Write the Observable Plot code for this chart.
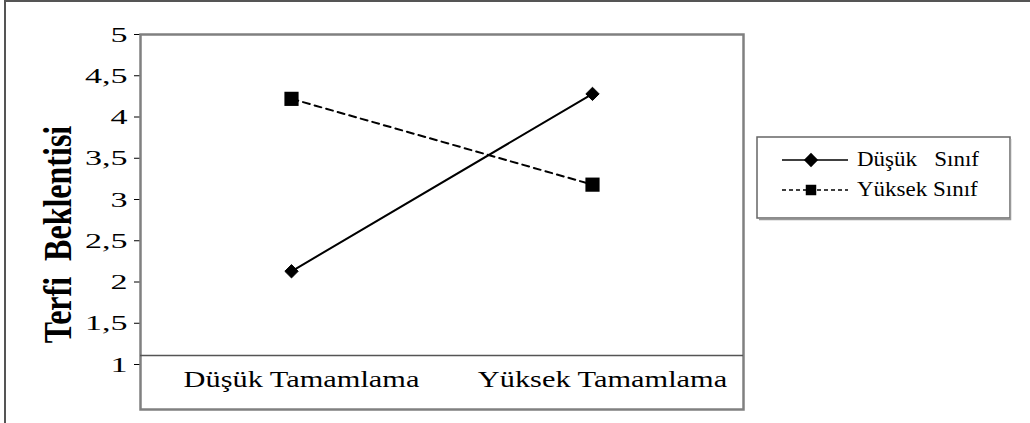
<!DOCTYPE html>
<html>
<head>
<meta charset="utf-8">
<script src="https://cdn.jsdelivr.net/npm/d3@7"></script>
<script src="https://cdn.jsdelivr.net/npm/@observablehq/plot@0.6"></script>
<style>
  html, body { margin: 0; padding: 0; background: #fff; }
  #wrap { position: relative; width: 1030px; height: 423px; overflow: hidden; }
  #border { position: absolute; left: 4px; top: 0px; width: 1040px; height: 440px;
            border-left: 2px solid #555; border-top: 2px solid #555; pointer-events: none; }
  #legend { position: absolute; left: 756px; top: 136px; }
  #wrap g[aria-label="x-axis tick label"] { font-size: 23px !important; }
  #wrap g[aria-label="x-axis tick label"] text { font-size: 23px !important; }
  #wrap g[aria-label="y-axis tick label"] { font-size: 22px !important; }
  #wrap g[aria-label="y-axis tick label"] text { font-size: 22px !important; }
  #wrap g[aria-label="y-axis label"] { font-size: 32px !important; font-weight: bold; }
  #wrap g[aria-label="y-axis label"] text { font-size: 32px !important; font-weight: bold; }
</style>
</head>
<body>
<div id="wrap"><div id="border"></div><div id="legend"></div></div>
<script>
const categories = ["Düşük Tamamlama", "Yüksek Tamamlama"];
const seriesNames = ["Düşük   Sınıf", "Yüksek Sınıf"];
const dusukSinif = [2.13, 4.28];
const yuksekSinif = [4.22, 3.18];
const yTicks = [1, 1.5, 2, 2.5, 3, 3.5, 4, 4.5, 5];
const yLabel = "Terfi  Beklentisi";

const rows = categories.flatMap((c, i) => [
  {cat: c, series: seriesNames[0], value: dusukSinif[i]},
  {cat: c, series: seriesNames[1], value: yuksekSinif[i]}
]);
const s0 = rows.filter(d => d.series === seriesNames[0]);
const s1 = rows.filter(d => d.series === seriesNames[1]);

const serif = "'Liberation Serif', 'Times New Roman', serif";

const chart = Plot.plot({
  width: 1030,
  height: 423,
  marginLeft: 140,
  marginRight: 287,
  marginTop: 34,
  marginBottom: 59,
  style: {fontFamily: serif, color: "#000", background: "transparent", overflow: "visible"},
  x: {type: "point", domain: categories, padding: 0.5},
  y: {domain: [1, 5], ticks: yTicks, tickFormat: d => String(d).replace(".", ","),
      tickSize: 6, tickPadding: 7, line: true,
      label: yLabel, labelAnchor: "center", labelArrow: "none", labelOffset: 98},
  marks: [
    Plot.frame({stroke: "#808080", strokeWidth: 2.5, insetBottom: -45}),
    Plot.ruleY([1], {dy: -9, stroke: "#555", strokeWidth: 1.5}),
    Plot.axisX({tickSize: 0, tickPadding: 6, dx: 10, label: null}),
    Plot.line(s1, {x: "cat", y: "value", stroke: "#000", strokeWidth: 2, strokeDasharray: "7,5"}),
    Plot.line(s0, {x: "cat", y: "value", stroke: "#000", strokeWidth: 2}),
    Plot.dot(s1, {x: "cat", y: "value", symbol: "square", r: 8, fill: "#000", stroke: "none"}),
    Plot.dot(s0, {x: "cat", y: "value", symbol: "diamond2", r: 6, fill: "#000", stroke: "#000", strokeWidth: 1})
  ]
});
const sel = d3.select(chart);
// strip any arrow from the y label
sel.selectAll('g[aria-label="y-axis label"] text').each(function() {
  this.textContent = this.textContent.replace(/[\u2190-\u2193]/g, "").trim();
});
// stretch text (the reference's glyphs are wide); texts are placed by their transform
function stretch(selection, sx, sy, pre = "") {
  selection.each(function() {
    const t = this.getAttribute("transform") || "";
    this.setAttribute("transform", `${pre} ${t} scale(${sx},${sy})`);
  });
}
stretch(sel.selectAll('g[aria-label="y-axis tick label"] text'), 1.55, 1);
stretch(sel.selectAll('g[aria-label="x-axis tick label"] text'), 1.32, 1);
stretch(sel.selectAll('g[aria-label="y-axis label"] text'), 1, 1.25, "translate(0,35)");
// put the grey frame beneath the black axis line
sel.select('[aria-label="frame"]').lower();
document.getElementById("wrap").prepend(chart);

// Legend
const lg = d3.select("#legend").append("svg").attr("width", 258).attr("height", 86)
  .style("font-family", serif).style("font-size", "20px");
lg.append("rect").attr("x", 1).attr("y", 1).attr("width", 253).attr("height", 81)
  .attr("fill", "#fff").attr("stroke", "#666").attr("stroke-width", 1.5);
lg.append("path").attr("d", "M254.5,3V83.5H3").attr("fill", "none").attr("stroke", "#999").attr("stroke-width", 1.5);
const entries = [
  {name: seriesNames[0], dash: null, symbol: d3.symbolDiamond2, size: 130},
  {name: seriesNames[1], dash: "4,3", symbol: d3.symbolSquare, size: 110}
];
entries.forEach((e, i) => {
  const cy = 24 + i * 30;
  lg.append("line").attr("x1", 26).attr("x2", 92).attr("y1", cy).attr("y2", cy)
    .attr("stroke", "#000").attr("stroke-width", 1.5).attr("stroke-dasharray", e.dash);
  lg.append("path").attr("d", d3.symbol(e.symbol, e.size)()).attr("transform", `translate(55,${cy})`)
    .attr("fill", "#000");
  lg.append("text").attr("transform", `translate(101,${cy}) scale(1.15,1)`).attr("dy", "0.32em")
    .style("white-space", "pre").attr("xml:space", "preserve").text(e.name);
});
</script>
</body>
</html>
